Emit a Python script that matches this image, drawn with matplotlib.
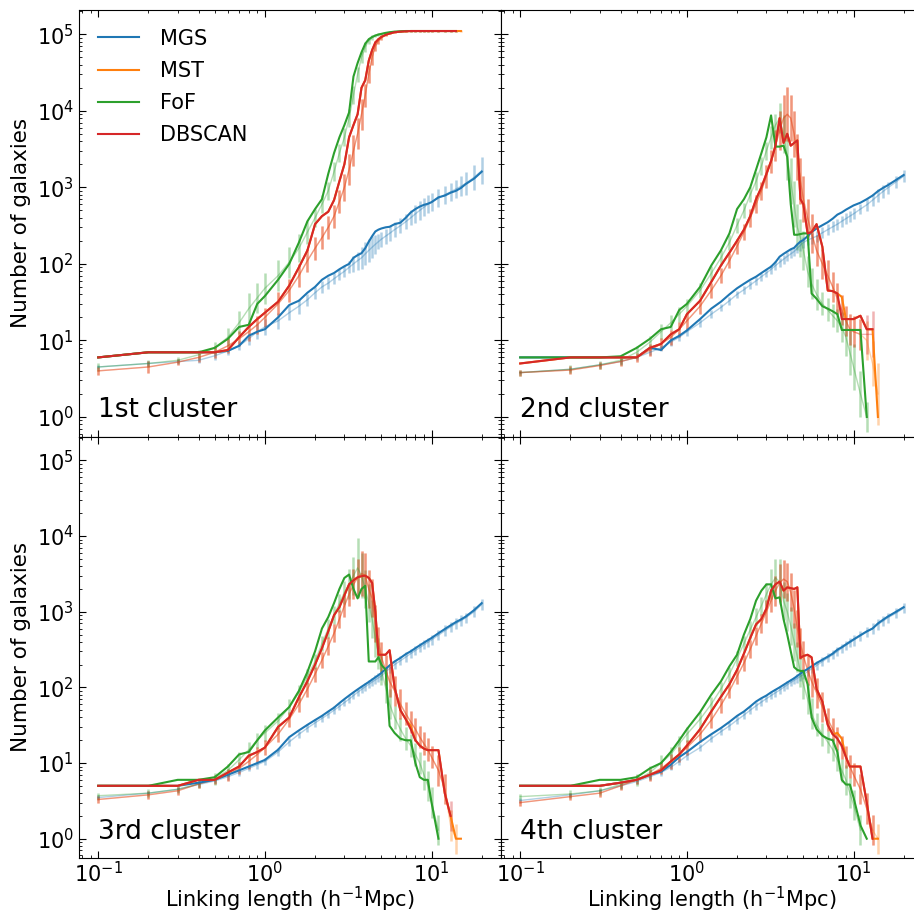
import numpy as np
import matplotlib.pyplot as plt

# linking lengths (h^-1 Mpc) shared by every curve
link = [0.1, 0.2, 0.3, 0.4, 0.5, 0.6, 0.7, 0.8, 0.9, 1.0,
        1.2, 1.4, 1.6, 1.8, 2.0, 2.2, 2.4, 2.6, 2.8, 3.0,
        3.2, 3.4, 3.6, 3.8, 4.0, 4.2, 4.4, 4.6, 4.8, 5.0,
        5.3, 5.6, 6.0, 6.5, 7.0, 7.5, 8.0, 8.5, 9.0, 9.5,
        10, 11, 12, 13, 14, 15, 16, 18, 20]

methods = ['MGS', 'MST', 'FoF', 'DBSCAN']
colors = ['tab:blue', 'tab:orange', 'tab:green', 'tab:red']
titles = ['1st cluster', '2nd cluster', '3rd cluster', '4th cluster']

# ---------------- 1st cluster ----------------
c1_mgs = [6, 7, 7, 7, 7, 7.3, 8.5, 11.5, 13, 14,
          20, 29, 33, 42, 50, 62, 70, 76, 85, 93,
          100, 120, 130, 138, 160, 195, 230, 265, 280, 290,
          300, 305, 330, 345, 400, 470, 520, 560, 590, 610,
          640, 740, 780, 850, 900, 980, 1100, 1300, 1600]
c1_mgs_mock = [4.5, 5, 5.3, 5.5, 6.3, 7.3, 8.5, 10.5, 13, 15,
               18, 23, 28, 34, 42, 50, 56, 64, 72, 80,
               90, 100, 110, 120, 135, 150, 165, 180, 195, 210,
               230, 250, 280, 315, 355, 400, 450, 500, 550, 600,
               640, 720, 800, 870, 950, 1030, 1120, 1350, 1650]
c1_mgs_err = [0.03, 0.03, 0.03, 0.04, 0.05, 0.05, 0.06, 0.08, 0.1, 0.1,
              0.1, 0.1, 0.1, 0.08, 0.08, 0.08, 0.08, 0.07, 0.07, 0.07,
              0.08, 0.1, 0.12, 0.14, 0.15, 0.15, 0.14, 0.12, 0.1, 0.1,
              0.1, 0.1, 0.1, 0.1, 0.1, 0.1, 0.12, 0.12, 0.12, 0.12,
              0.12, 0.12, 0.12, 0.12, 0.12, 0.13, 0.15, 0.16, 0.18]
c1_dbscan = [6, 7, 7, 7, 7, 7.5, 11, 15, 19, 23,
             32, 52, 90, 150, 330, 420, 480, 680, 1200, 2000,
             4500, 6500, 9000, 20000, 25000, 45000, 62000, 78000, 86000, 92000,
             98000, 102000, 106000, 108000, 109000, 110000, 110000, 110000, 110000, 110000,
             110000, 110000, 110000, 110000, 110000, None, None, None, None]
c1_mst = c1_dbscan[:45] + [110000, None, None, None]
c1_dbscan_mock = [4, 4.5, 5.2, 6, 7, 8.5, 10.5, 13, 16, 20,
                  30, 45, 70, 110, 160, 220, 300, 420, 650, 1000,
                  1700, 3000, 5000, 9000, 16000, 30000, 50000, 70000, 82000, 90000,
                  98000, 102000, 106000, 108000, 109000, 110000, 110000, 110000, 110000, 110000,
                  110000, 110000, 110000, 110000, 110000, None, None, None, None]
c1_mst_mock = c1_dbscan_mock[:45] + [110000, None, None, None]
c1_dbscan_err = [0.05, 0.08, 0.04, 0.06, 0.08, 0.1, 0.1, 0.12, 0.12, 0.12,
                 0.15, 0.15, 0.15, 0.15, 0.15, 0.15, 0.15, 0.15, 0.15, 0.18,
                 0.2, 0.2, 0.2, 0.2, 0.15, 0.12, 0.1, 0.06, 0.04, 0.03,
                 0.02, 0.01, 0.01, 0.01, 0.01, 0.01, 0.01, 0.01, 0.01, 0.01,
                 0.01, 0.01, 0.01, 0.01, 0.01, 0.01, 0.01, 0.01, 0.01]
c1_fof = [6, 7, 7, 7, 8, 10.5, 15, 16, 30, 38,
          62, 100, 190, 360, 520, 700, 1500, 2800, 4500, 6500,
          9500, 28000, 42000, 58000, 75000, 86000, 92000, 96000, 99000, 101000,
          104000, 106000, 108000, 109000, 110000, 110000, 110000, 110000, 110000, 110000,
          110000, 110000, 110000, 110000, 110000, None, None, None, None]
c1_fof_mock = [4.5, 5, 5.5, 6.5, 8, 11, 17, 26, 36, 48,
               70, 105, 160, 260, 400, 600, 900, 1600, 2800, 4500,
               8000, 16000, 30000, 50000, 68000, 82000, 90000, 96000, 99000, 101000,
               104000, 106000, 108000, 109000, 110000, 110000, 110000, 110000, 110000, 110000,
               110000, 110000, 110000, 110000, 110000, None, None, None, None]
c1_fof_err = [0.05, 0.05, 0.04, 0.06, 0.08, 0.12, 0.15, 0.2, 0.2, 0.2,
              0.2, 0.2, 0.18, 0.15, 0.12, 0.12, 0.12, 0.12, 0.12, 0.12,
              0.12, 0.12, 0.1, 0.08, 0.06, 0.04, 0.03, 0.02, 0.02, 0.01,
              0.01, 0.01, 0.01, 0.01, 0.01, 0.01, 0.01, 0.01, 0.01, 0.01,
              0.01, 0.01, 0.01, 0.01, 0.01, 0.01, 0.01, 0.01, 0.01]

# ---------------- 2nd cluster ----------------
c2_mgs = [6, 6, 6, 6, 6, 8, 7.5, 10, 11.5, 13.5,
          19, 26, 32, 40, 48, 55, 62, 68, 76, 84,
          92, 105, 124, 135, 145, 155, 162, 180, 195, 205,
          230, 260, 290, 320, 350, 390, 440, 470, 510, 545,
          580, 630, 700, 780, 890, 980, 1060, 1250, 1450]
c2_mgs_mock = [3.8, 4.2, 4.8, 5.3, 6, 7, 8, 9.5, 11, 13,
               17, 22, 27, 33, 40, 46, 53, 60, 68, 76,
               85, 95, 105, 115, 125, 135, 145, 160, 175, 190,
               205, 215, 230, 255, 280, 305, 330, 360, 390, 420,
               450, 520, 590, 680, 780, 880, 980, 1180, 1400]
c2_mgs_err = [0.02, 0.02, 0.03, 0.03, 0.03, 0.04, 0.04, 0.05, 0.05, 0.05,
              0.05, 0.05, 0.05, 0.05, 0.05, 0.05, 0.05, 0.05, 0.05, 0.05,
              0.06, 0.06, 0.06, 0.06, 0.06, 0.06, 0.06, 0.06, 0.07, 0.07,
              0.07, 0.07, 0.07, 0.07, 0.07, 0.07, 0.07, 0.07, 0.07, 0.07,
              0.07, 0.07, 0.08, 0.08, 0.08, 0.08, 0.08, 0.08, 0.08]
c2_dbscan = [5, 6, 6, 6, 6, 8, 9, 12, 14, 22,
             33, 58, 95, 140, 200, 280, 420, 700, 1000, 1500,
             2200, 3500, 8000, 3800, 5000, 3500, 3800, 4100, 700, 600,
             250, 260, 330, 167, 45, 44, 41, 19, 19, 19,
             19, 21, 14, 14, None, None, None, None, None]
c2_mst = c2_dbscan[:37] + [37, 19, 19, 19, 21, 14, 14, 1, None, None, None, None]
c2_dbscan_mock = [3.8, 4.1, 4.7, 5.3, 6, 7.5, 9, 11, 14, 18,
                  28, 45, 70, 110, 170, 260, 400, 600, 900, 1400,
                  2200, 3500, 5500, 8000, 9000, 8000, 5000, 2500, 1200, 700,
                  400, 250, 150, 100, 70, 50, 35, 25, 18, 14,
                  13, 12, 12, 12, None, None, None, None, None]
c2_mst_mock = c2_dbscan_mock[:42] + [10, 5, 2, None, None, None, None]
c2_dbscan_err = [0.04, 0.05, 0.05, 0.06, 0.06, 0.08, 0.08, 0.1, 0.1, 0.1,
                 0.1, 0.1, 0.1, 0.1, 0.1, 0.1, 0.12, 0.12, 0.12, 0.15,
                 0.15, 0.2, 0.25, 0.3, 0.35, 0.3, 0.3, 0.3, 0.3, 0.3,
                 0.25, 0.25, 0.2, 0.2, 0.2, 0.2, 0.2, 0.2, 0.2, 0.2,
                 0.2, 0.2, 0.25, 0.3, 0.4, 0.4, 0.4, 0.4, 0.4]
c2_fof = [6, 6, 6, 6.2, 8, 10.5, 14, 15, 25, 30,
          50, 95, 150, 250, 520, 700, 1000, 1700, 2800, 4500,
          8700, 3400, 3400, 3500, 2500, 600, 240, 240, 245, 250,
          250, 41, 35, 28, 26, 24, 22, 13.7, 13.7, 13.7,
          13.7, 13.7, 1, None, None, None, None, None, None]
c2_fof_mock = [3.8, 4.2, 4.8, 5.5, 7, 9.5, 13, 17, 22, 28,
               45, 75, 120, 190, 320, 500, 800, 1200, 1900, 3000,
               4500, 6500, 8000, 5000, 2500, 1200, 600, 300, 220, 150,
               80, 55, 40, 30, 25, 21, 18, 15, 11, 7,
               4.5, 2, 1, None, None, None, None, None, None]
c2_fof_err = [0.04, 0.05, 0.05, 0.06, 0.08, 0.08, 0.1, 0.1, 0.1, 0.1,
              0.1, 0.1, 0.1, 0.1, 0.1, 0.1, 0.1, 0.12, 0.12, 0.12,
              0.15, 0.15, 0.2, 0.25, 0.3, 0.3, 0.3, 0.3, 0.25, 0.25,
              0.2, 0.2, 0.2, 0.15, 0.15, 0.15, 0.15, 0.2, 0.25, 0.3,
              0.3, 0.3, 0.2, 0.2, 0.2, 0.2, 0.2, 0.2, 0.2]

# ---------------- 3rd cluster ----------------
c3_mgs = [5, 5, 5, 5.5, 6, 7, 8, 9, 10, 11,
          15, 22, 27, 32, 37, 42, 48, 54, 62, 70,
          78, 86, 94, 102, 110, 118, 127, 136, 145, 155,
          175, 195, 220, 245, 275, 300, 330, 360, 390, 420,
          450, 520, 590, 660, 730, 790, 860, 1050, 1300]
c3_mgs_mock = [3.5, 4, 4.5, 5.2, 5.8, 6.6, 7.5, 8.5, 9.5, 10.5,
               14, 19, 24, 29, 34, 39, 44, 50, 56, 63,
               70, 78, 86, 94, 102, 110, 118, 126, 134, 142,
               160, 178, 200, 225, 252, 280, 308, 336, 365, 395,
               425, 490, 560, 630, 700, 760, 830, 1000, 1250]
c3_mgs_err = [0.03, 0.03, 0.03, 0.03, 0.03, 0.04, 0.04, 0.04, 0.05, 0.05,
              0.05, 0.05, 0.05, 0.05, 0.05, 0.05, 0.05, 0.05, 0.05, 0.05,
              0.05, 0.05, 0.05, 0.05, 0.05, 0.05, 0.05, 0.06, 0.06, 0.06,
              0.06, 0.06, 0.06, 0.06, 0.06, 0.06, 0.06, 0.06, 0.06, 0.06,
              0.07, 0.07, 0.07, 0.07, 0.07, 0.07, 0.07, 0.07, 0.07]
c3_dbscan = [5, 5, 5, 6, 6, 7.5, 9, 12.5, 14, 16,
             30, 40, 74, 121, 200, 330, 550, 900, 1150, 1650,
             2300, 2600, 2850, 2950, 3000, 2800, 2400, 1000, 270, 270,
             270, 310, 100, 50, 38, 28, 20, 17, 15.5, 14.8,
             14.8, 14.8, 4, 2, None, None, None, None, None]
c3_mst = c3_dbscan[:35] + [31, 20, 17, 15.5, 14.8, 14.8, 14.8, 4, 2, 1, 1, None, None, None]
c3_dbscan_mock = [3.3, 3.8, 4.3, 5.3, 6, 7, 8.5, 10.5, 13, 16,
                  24, 38, 60, 95, 150, 230, 350, 520, 800, 1200,
                  1700, 2300, 2800, 3200, 3000, 2000, 1500, 700, 400, 250,
                  170, 120, 90, 60, 45, 35, 28, 22, 18, 15,
                  12, 8, 4.5, 2, None, None, None, None, None]
c3_mst_mock = c3_dbscan_mock[:43] + [1.5, 1, None, None, None, None]
c3_dbscan_err = [0.04, 0.05, 0.05, 0.06, 0.06, 0.08, 0.08, 0.1, 0.1, 0.1,
                 0.1, 0.1, 0.1, 0.1, 0.1, 0.1, 0.12, 0.12, 0.12, 0.15,
                 0.15, 0.2, 0.25, 0.3, 0.3, 0.25, 0.25, 0.25, 0.2, 0.2,
                 0.2, 0.2, 0.2, 0.2, 0.15, 0.15, 0.15, 0.15, 0.15, 0.15,
                 0.15, 0.2, 0.2, 0.2, 0.2, 0.2, 0.2, 0.2, 0.2]
c3_fof = [5, 5, 6, 6, 6.5, 9, 13, 14, 20, 27,
          40, 55, 90, 160, 300, 600, 850, 1300, 2000, 2800,
          3100, 2000, 1500, 2000, 2200, 220, 220, 220, 250, 200,
          170, 31, 25, 21, 20, 20, 10, 6.5, 6, 6,
          3, 1, None, None, None, None, None, None, None]
c3_fof_mock = [3.7, 4, 4.5, 5.3, 6.2, 8, 11, 15, 20, 25,
               36, 55, 85, 140, 220, 380, 600, 900, 1300, 1800,
               2300, 3000, 3800, 3000, 2000, 1300, 800, 450, 280, 170,
               100, 60, 40, 28, 21, 17, 13, 10, 7, 5,
               3, 1.3, None, None, None, None, None, None, None]
c3_fof_err = [0.04, 0.05, 0.05, 0.06, 0.08, 0.08, 0.1, 0.1, 0.1, 0.1,
              0.1, 0.1, 0.1, 0.1, 0.1, 0.1, 0.12, 0.12, 0.12, 0.15,
              0.2, 0.25, 0.4, 0.3, 0.25, 0.25, 0.25, 0.25, 0.2, 0.2,
              0.2, 0.2, 0.15, 0.15, 0.15, 0.15, 0.15, 0.15, 0.2, 0.2,
              0.2, 0.2, 0.2, 0.2, 0.2, 0.2, 0.2, 0.2, 0.2]

# ---------------- 4th cluster ----------------
c4_mgs = [5, 5, 5, 5.5, 6, 7, 7.7, 9.5, 12, 14,
          19, 24, 29, 35, 42, 48, 56, 65, 72, 78,
          86, 93, 100, 108, 116, 124, 132, 142, 152, 162,
          175, 190, 210, 232, 255, 280, 315, 340, 370, 400,
          430, 490, 550, 600, 700, 780, 860, 1000, 1150]
c4_mgs_mock = [3.2, 3.8, 4.3, 5, 5.7, 6.6, 7.5, 8.8, 10.5, 12.5,
               16, 21, 26, 31, 37, 43, 50, 57, 64, 71,
               78, 85, 92, 100, 108, 116, 124, 132, 140, 148,
               162, 176, 195, 220, 245, 270, 300, 330, 360, 390,
               420, 480, 540, 600, 680, 750, 830, 960, 1120]
c4_mgs_err = [0.03, 0.03, 0.03, 0.03, 0.03, 0.04, 0.04, 0.04, 0.05, 0.05,
              0.05, 0.05, 0.05, 0.05, 0.05, 0.05, 0.05, 0.05, 0.05, 0.05,
              0.05, 0.05, 0.05, 0.05, 0.05, 0.05, 0.05, 0.06, 0.06, 0.06,
              0.06, 0.06, 0.06, 0.06, 0.06, 0.06, 0.06, 0.06, 0.06, 0.06,
              0.07, 0.07, 0.07, 0.07, 0.07, 0.07, 0.07, 0.07, 0.07]
c4_dbscan = [5, 5, 5, 5.5, 6, 7, 8, 10.5, 13, 17,
             28, 48, 75, 110, 170, 280, 450, 680, 800, 1100,
             1900, 2300, 2500, 1900, 2100, 2050, 2000, 2100, 245, 260,
             270, 250, 95, 65, 32, 24, 21, 17, 12, 9,
             9, 9, 3, 1, None, None, None, None, None]
c4_mst = c4_dbscan[:36] + [25, 21, 12, 9, 9, 9, 3, 1, 1, None, None, None, None]
c4_dbscan_mock = [3.0, 3.6, 4.0, 5.0, 6, 7, 8.5, 10.5, 13, 16,
                  24, 37, 58, 90, 140, 210, 320, 480, 700, 1000,
                  1400, 1900, 2400, 2700, 2500, 1800, 1100, 600, 380, 260,
                  170, 120, 85, 55, 38, 28, 21, 16, 12, 9,
                  7, 4.5, 2.5, 1.3, None, None, None, None, None]
c4_mst_mock = c4_dbscan_mock[:43] + [1.3, 1, None, None, None, None]
c4_dbscan_err = [0.04, 0.05, 0.05, 0.06, 0.06, 0.08, 0.08, 0.1, 0.1, 0.1,
                 0.1, 0.1, 0.1, 0.1, 0.1, 0.1, 0.12, 0.12, 0.12, 0.15,
                 0.15, 0.2, 0.25, 0.25, 0.25, 0.25, 0.25, 0.25, 0.2, 0.2,
                 0.2, 0.2, 0.2, 0.2, 0.15, 0.15, 0.15, 0.15, 0.15, 0.15,
                 0.15, 0.2, 0.2, 0.2, 0.2, 0.2, 0.2, 0.2, 0.2]
c4_fof = [5, 5, 6, 6, 6.5, 8.5, 10, 14, 20, 28,
          47, 80, 120, 190, 270, 500, 800, 1400, 1900, 2300,
          2300, 1500, 1550, 800, 500, 300, 185, 170, 165, 165,
          110, 40, 28, 23, 21, 20, 14, 6, 5.2, 5.2,
          3.5, 1.5, 1, None, None, None, None, None, None]
c4_fof_mock = [3.6, 3.9, 4.3, 5.2, 6, 7.5, 10, 13, 18, 24,
               38, 60, 95, 150, 240, 380, 580, 850, 1200, 1700,
               2300, 2800, 2500, 1400, 1000, 650, 400, 250, 160, 110,
               70, 45, 32, 24, 19, 15, 11, 8, 6, 4,
               2.8, 1.3, None, None, None, None, None, None, None]
c4_fof_err = [0.04, 0.05, 0.05, 0.06, 0.08, 0.08, 0.1, 0.1, 0.1, 0.1,
              0.1, 0.1, 0.1, 0.1, 0.1, 0.1, 0.12, 0.12, 0.12, 0.15,
              0.2, 0.25, 0.3, 0.25, 0.25, 0.25, 0.25, 0.2, 0.2, 0.2,
              0.2, 0.2, 0.15, 0.15, 0.15, 0.15, 0.15, 0.15, 0.2, 0.2,
              0.2, 0.2, 0.2, 0.2, 0.2, 0.2, 0.2, 0.2, 0.2]

panels = [
    [(c1_mgs, c1_mgs_mock, c1_mgs_err), (c1_mst, c1_mst_mock, c1_dbscan_err),
     (c1_fof, c1_fof_mock, c1_fof_err), (c1_dbscan, c1_dbscan_mock, c1_dbscan_err)],
    [(c2_mgs, c2_mgs_mock, c2_mgs_err), (c2_mst, c2_mst_mock, c2_dbscan_err),
     (c2_fof, c2_fof_mock, c2_fof_err), (c2_dbscan, c2_dbscan_mock, c2_dbscan_err)],
    [(c3_mgs, c3_mgs_mock, c3_mgs_err), (c3_mst, c3_mst_mock, c3_dbscan_err),
     (c3_fof, c3_fof_mock, c3_fof_err), (c3_dbscan, c3_dbscan_mock, c3_dbscan_err)],
    [(c4_mgs, c4_mgs_mock, c4_mgs_err), (c4_mst, c4_mst_mock, c4_dbscan_err),
     (c4_fof, c4_fof_mock, c4_fof_err), (c4_dbscan, c4_dbscan_mock, c4_dbscan_err)],
]


def draw_method(ax, main, mock, err, color, label):
    x = np.array(link, dtype=float)
    y = np.array(main, dtype=float)
    m = np.array(mock, dtype=float)
    e = np.array(err, dtype=float)
    lo = m - m / 10**e
    hi = m * 10**e - m
    ax.errorbar(x, m, yerr=[lo, hi], color=color, alpha=0.35, lw=1.0,
                elinewidth=1.8, zorder=1)
    ax.plot(x, y, color=color, lw=1.5, label=label, zorder=2)


fig = plt.figure(figsize=(9.14, 9.16), dpi=100)
W, H = 914.0, 916.0
aw = 422 / W
# panel boxes in pixels from the top-left corner: (left, top, bottom)
boxes = [(79, 10, 436.5), (501, 10, 436.5), (79, 436.5, 858), (501, 436.5, 858)]

axes = []
for i, (left, top, bottom) in enumerate(boxes):
    rect = [left / W, 1 - bottom / H, aw, (bottom - top) / H]
    if axes:
        ax = fig.add_axes(rect, sharex=axes[0], sharey=axes[0])
    else:
        ax = fig.add_axes(rect)
    axes.append(ax)
    ax.set_xscale('log')
    ax.set_yscale('log')
    for (main, mock, err), c, name in zip(panels[i], colors, methods):
        draw_method(ax, main, mock, err, c, name)
    ax.text(0.045, 0.046, titles[i], transform=ax.transAxes, fontsize=19,
            ha='left', va='baseline')
    ax.tick_params(which='both', direction='in', top=True, right=True,
                   labelsize=15)
    ax.tick_params(which='major', length=5)
    ax.tick_params(which='minor', length=2.5)
    ax.tick_params(axis='x', pad=2)
    if i < 2:
        ax.tick_params(labelbottom=False)
    else:
        # x label bottom sits just above the lower figure edge
        ax.set_xlabel(r'Linking length (h$^{-1}$Mpc)', fontsize=15,
                      va='bottom')
        ax.xaxis.set_label_coords(0.5, -(914 - bottom) / (bottom - top))
    if i % 2 == 1:
        ax.tick_params(labelleft=False)
    else:
        ax.set_ylabel('Number of galaxies', fontsize=15.5)

axes[0].set_xlim(0.0767, 26.1)
axes[0].set_ylim(0.556, 2.07e5)
axes[0].legend(loc='upper left', frameon=False, fontsize=15,
               labelspacing=0.58, handletextpad=1.0)

fig.savefig('out.png', dpi=100)
